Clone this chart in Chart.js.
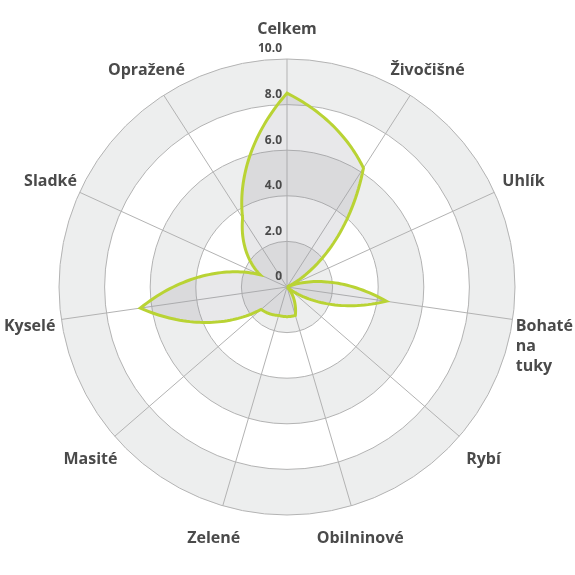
<!DOCTYPE html>
<html>
<head>
<meta charset="utf-8">
<script src="https://cdn.jsdelivr.net/npm/chart.js@4"></script>
<style>
  html, body { margin: 0; padding: 0; background: #fff; }
</style>
</head>
<body>
<canvas id="radar" width="575" height="575"></canvas>
<script>
// Categories (axes) going clockwise from the top
const categories = ['Celkem', 'Živočišné', 'Uhlík', ['Bohaté', 'na', 'tuky'], 'Rybí', 'Obilninové', 'Zelené', 'Masité', 'Kyselé', 'Sladké', 'Opražené'];
// Values
const values = [8.5, 6.2, 0, 4.4, 0, 1.3, 1.3, 1.5, 6.5, 1.3, 3.6];
// Scale ticks
const tickValues = [0, 2, 4, 6, 8, 10];
const tickLabels = ['0', '2.0', '4.0', '6.0', '8.0', '10.0'];

const textColor = '#4a4a4a';
const bandGray = '#edeeee';
const lineColor = '#b9d334';
const fillColor = 'rgba(145, 147, 155, 0.21)';

// radius blend between two neighbouring axes (power mean, so the outline
// hugs the centre near small values like in the original)
function blend(a, b, t) {
    const p = 0.7;
    return Math.pow((1 - t) * Math.pow(a, p) + t * Math.pow(b, p), 1 / p);
}

// Draws the alternating rings, the outline, the axis labels and the tick labels
const radarDecor = {
    id: 'radarDecor',
    beforeDraw(chart) {
        const s = chart.scales.r;
        const ctx = chart.ctx;
        ctx.save();
        for (let i = tickValues.length - 1; i > 0; i--) {
            ctx.beginPath();
            ctx.arc(s.xCenter, s.yCenter, s.getDistanceFromCenterForValue(tickValues[i]), 0, Math.PI * 2);
            ctx.fillStyle = (i % 2 === 1) ? bandGray : '#ffffff';
            ctx.fill();
        }
        ctx.restore();
    },
    beforeDatasetDraw(chart, args) {
        // outline is interpolated in polar space between the axes
        const s = chart.scales.r;
        const ctx = chart.ctx;
        const data = chart.data.datasets[args.index].data;
        const n = data.length;
        const steps = 40;
        ctx.save();
        ctx.beginPath();
        for (let i = 0; i < n; i++) {
            const a = data[i], b = data[(i + 1) % n];
            for (let k = 0; k < steps; k++) {
                const t = k / steps;
                const p = s.getPointPosition(i + t, s.getDistanceFromCenterForValue(blend(a, b, t)));
                if (i === 0 && k === 0) ctx.moveTo(p.x, p.y); else ctx.lineTo(p.x, p.y);
            }
        }
        ctx.closePath();
        ctx.fillStyle = fillColor;
        ctx.fill();
        ctx.lineWidth = 3;
        ctx.lineJoin = 'miter';
        ctx.strokeStyle = lineColor;
        ctx.stroke();
        ctx.restore();
        return false;
    },
    afterDraw(chart) {
        const s = chart.scales.r;
        const ctx = chart.ctx;
        ctx.save();
        ctx.fillStyle = textColor;

        // point labels, centred a bit outside the outer ring
        ctx.font = 'bold 16px "Open Sans"';
        ctx.textBaseline = 'middle';
        categories.forEach((label, i) => {
            const pos = s.getPointPosition(i, s.drawingArea + 32);
            if (Array.isArray(label)) {
                const w = Math.max(...label.map(l => ctx.measureText(l).width));
                ctx.textAlign = 'left';
                label.forEach((line, k) => ctx.fillText(line, pos.x - w / 2, pos.y + 2 + k * 20));
            } else {
                ctx.textAlign = 'center';
                ctx.fillText(label, pos.x, pos.y + 2);
            }
        });

        // tick labels, left of the vertical axis and just above each ring
        ctx.font = 'bold 12px "Open Sans"';
        ctx.textAlign = 'right';
        tickValues.forEach((v, i) => {
            const d = s.getDistanceFromCenterForValue(v);
            ctx.fillText(tickLabels[i], s.xCenter - 5, s.yCenter - d - 10);
        });
        ctx.restore();
    }
};

new Chart(document.getElementById('radar'), {
    type: 'radar',
    data: {
        labels: categories,
        datasets: [{
            data: values,
            borderColor: lineColor,
            borderWidth: 3,
            backgroundColor: 'transparent',
            fill: false,
            pointRadius: 0,
            pointHoverRadius: 0
        }]
    },
    options: {
        responsive: false,
        animation: false,
        layout: { padding: { left: 59, right: 60, top: 59, bottom: 60 } },
        plugins: {
            legend: { display: false },
            tooltip: { enabled: false }
        },
        scales: {
            r: {
                min: 0,
                max: 10,
                ticks: { display: false, stepSize: 2 },
                grid: { circular: true, color: '#b3b3b3', lineWidth: 1 },
                angleLines: { color: '#b3b3b3', lineWidth: 1 },
                pointLabels: { display: false }
            }
        }
    },
    plugins: [radarDecor]
});
</script>
</body>
</html>
